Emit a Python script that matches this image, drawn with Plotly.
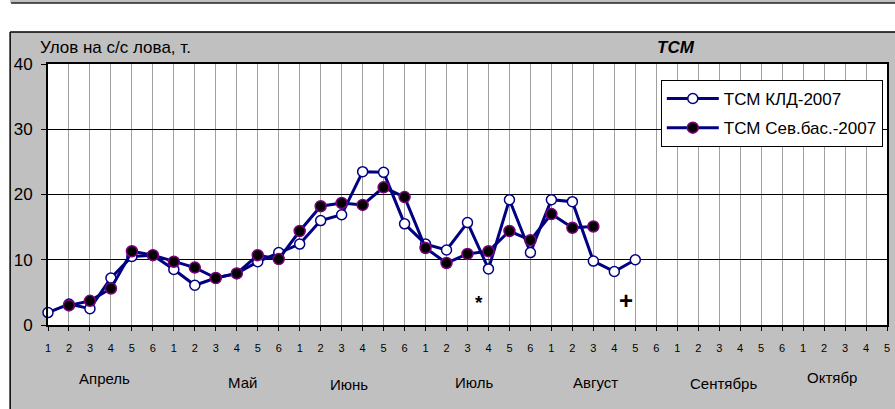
import plotly.graph_objects as go

# week index within month, Apr..Oct (Oct has 5 weeks)
WEEK_LABELS = ["1", "2", "3", "4", "5", "6"] * 6 + ["1", "2", "3", "4", "5"]
MONTHS = ["Апрель", "Май", "Июнь", "Июль", "Август", "Сентябрь", "Октябр"]

# catch per fishing day, t
KLD_2007 = [1.9, 3.2, 2.5, 7.2, 10.5, 10.7, 8.5, 6.1, 7.2, 7.9, 9.7, 11.1,
            12.4, 16.0, 16.9, 23.5, 23.4, 15.5, 12.4, 11.5, 15.7, 8.6, 19.2, 11.1,
            19.2, 18.9, 9.8, 8.2, 10.0]
SEV_2007 = [None, 3.0, 3.7, 5.6, 11.3, 10.7, 9.7, 8.8, 7.2, 7.9, 10.7, 10.1,
            14.4, 18.2, 18.7, 18.4, 21.1, 19.6, 11.8, 9.5, 10.9, 11.3, 14.4, 13.0,
            17.0, 14.9, 15.1]

NAVY = "#000080"
GREY = "#c0c0c0"
FONT = "Arial, 'Liberation Sans', sans-serif"

W, H = 895, 409
L, R, T, B = 48, 890, 64, 325


def px(x):
    return (x - L) / (R - L)


def py(y):
    return (B - y) / (B - T)


fig = go.Figure()
fig.add_trace(go.Scatter(
    x=list(range(len(KLD_2007))), y=KLD_2007,
    mode="lines+markers", name="ТСМ КЛД-2007", legendgroup="a",
    line={"color": NAVY, "width": 3},
    marker={"symbol": "circle", "size": 10, "color": "white",
            "line": {"color": NAVY, "width": 1.5}},
    cliponaxis=False,
))
fig.add_trace(go.Scatter(
    x=list(range(len(SEV_2007))), y=SEV_2007,
    mode="lines+markers", name="ТСМ Сев.бас.-2007", legendgroup="b",
    line={"color": NAVY, "width": 3},
    marker={"symbol": "circle", "size": 11, "color": "black",
            "line": {"color": "#800080", "width": 1.5}},
    cliponaxis=False,
))

# month captions under the week numbers (positions as in the source sheet)
month_x = [2.7, 9.25, 14.35, 20.3, 26.1, 32.2, 37.4]
month_y = [378, 382, 384, 382, 382, 383, 377]
for name, mx, my in zip(MONTHS, month_x, month_y):
    fig.add_annotation(x=mx, y=py(my), xref="x", yref="paper", text=name,
                       xanchor="center", yanchor="middle", showarrow=False,
                       font={"size": 15, "color": "black"})

# remarks on the chart
fig.add_annotation(x=20.56, y=3.5, text="<b>*</b>", showarrow=False,
                   xanchor="center", yanchor="middle",
                   font={"size": 19, "color": "black"})
fig.add_annotation(x=27.54, y=3.8, text="<b>+</b>", showarrow=False,
                   xanchor="center", yanchor="middle",
                   font={"size": 24, "color": "black"})

fig.add_annotation(x=px(38), y=py(48), xref="paper", yref="paper",
                   xanchor="left", yanchor="middle",
                   text="Улов на с/с лова, т.", showarrow=False,
                   font={"size": 17, "color": "black"})
fig.add_annotation(x=px(678), y=py(48), xref="paper", yref="paper",
                   xanchor="center", yanchor="middle",
                   text="<b><i>ТСМ</i></b>", showarrow=False,
                   font={"size": 17, "color": "black"})

# white page around the grey chart frame, frame edges, edge of the chart above
for x0, x1, y0, y1 in [(-5, 10, -10, 430), (-5, 905, 3, 32)]:
    fig.add_shape(type="rect", xref="paper", yref="paper", layer="below",
                  x0=px(x0), x1=px(x1), y0=py(y0), y1=py(y1),
                  fillcolor="white", line={"width": 0})
fig.add_shape(type="line", xref="paper", yref="paper", layer="below",
              x0=px(10), x1=px(905), y0=py(32), y1=py(32),
              line={"color": "black", "width": 1.5})
fig.add_shape(type="line", xref="paper", yref="paper", layer="below",
              x0=px(10), x1=px(10), y0=py(32), y1=py(430),
              line={"color": "black", "width": 1.5})
fig.add_shape(type="line", xref="paper", yref="paper", layer="below",
              x0=px(11), x1=px(905), y0=py(3), y1=py(3),
              line={"color": "#222", "width": 1.5})

fig.update_xaxes(
    range=[0, len(WEEK_LABELS) - 1], tickvals=list(range(len(WEEK_LABELS))),
    ticktext=WEEK_LABELS, tickfont={"size": 11, "color": "black"},
    showgrid=True, gridcolor="#a0a0a0", gridwidth=1, zeroline=False,
    showline=True, linecolor="black", linewidth=2, mirror=True,
    ticks="outside", ticklen=4, tickcolor="black", ticklabelstandoff=8,
)
fig.update_yaxes(
    range=[0, 40], dtick=10, tickfont={"size": 17, "color": "black"},
    showgrid=True, gridcolor="black", gridwidth=1, zeroline=False,
    showline=True, linecolor="black", linewidth=2, mirror=True,
    ticks="outside", ticklen=5, tickcolor="black", ticklabelstandoff=5,
)
fig.update_layout(
    width=W, height=H,
    margin={"l": L, "r": W - R, "t": T, "b": H - B},
    paper_bgcolor=GREY, plot_bgcolor="white",
    font={"family": FONT, "color": "black"},
    showlegend=True,
    legend={"x": px(663), "y": py(80), "xanchor": "left", "yanchor": "top",
            "bgcolor": "white", "bordercolor": "black", "borderwidth": 1,
            "font": {"size": 17}, "tracegroupgap": 4, "itemwidth": 52},
)

# the page body has a default 8px margin; drop it so the figure sits at 0,0
fig.write_html("out.html", config={"displayModeBar": False},
               post_script="document.body.style.margin='0';")
